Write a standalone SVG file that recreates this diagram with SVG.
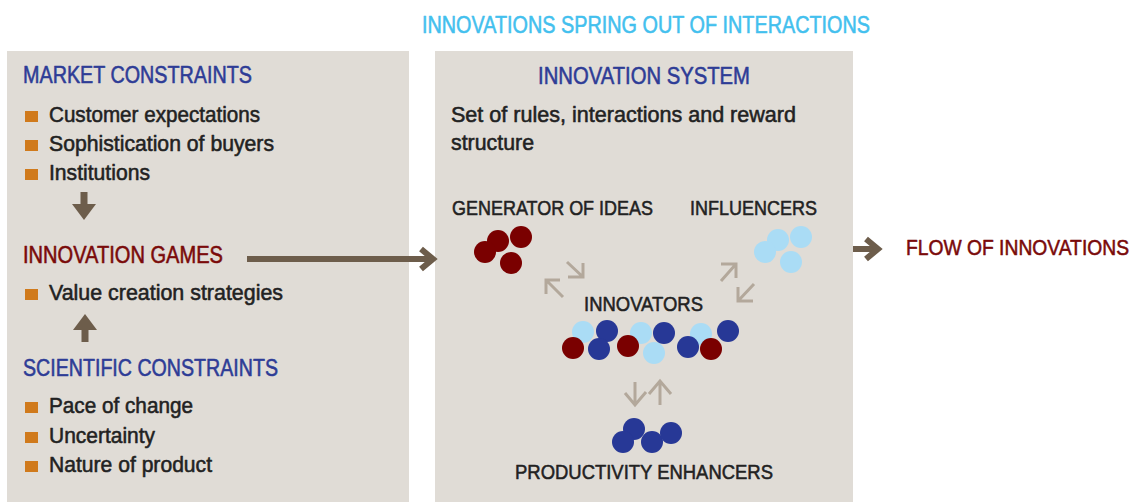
<svg xmlns="http://www.w3.org/2000/svg" width="1141" height="502" viewBox="0 0 1141 502">
  <style>
    text { font-family: "Liberation Sans Narrow", "Liberation Sans", "DejaVu Sans Condensed", sans-serif; stroke-width: 0.55px; stroke-linejoin: round; }
    .panel { fill: #e0dcd6; }
    .title { fill: #43c0ee; stroke: #43c0ee; font-size: 24px; }
    .head-blue { fill: #2e3c96; stroke: #2e3c96; font-size: 23px; }
    .head-red { fill: #7a0a0a; stroke: #7a0a0a; font-size: 23px; }
    .body { fill: #222222; stroke: #222222; font-size: 22px; }
    .label { fill: #222222; stroke: #222222; font-size: 21px; }
    .bullet { fill: #d07a1c; }
    .dred { fill: #7a0000; }
    .dblue { fill: #273896; }
    .lblue { fill: #aadcf5; }
    .big-arrow { fill: none; stroke: #6d5d4b; stroke-width: 6; stroke-linejoin: miter; }
    .solid-arrow { fill: #6d5d4b; }
    .thin-arrow { fill: none; stroke: #b3a89b; stroke-width: 3; stroke-linecap: butt; stroke-linejoin: miter; }
  </style>

  <!-- Page heading -->
  <text class="title" x="422" y="33" textLength="448" lengthAdjust="spacingAndGlyphs">INNOVATIONS SPRING OUT OF INTERACTIONS</text>

  <!-- Left panel: constraints and games -->
  <g id="constraints">
    <rect class="panel" x="7" y="51" width="402" height="451"/>

    <g id="market-constraints">
      <text class="head-blue" x="23" y="83" textLength="229" lengthAdjust="spacingAndGlyphs">MARKET CONSTRAINTS</text>
      <rect class="bullet" x="25" y="111" width="13" height="11"/>
      <text class="body" x="49" y="122" textLength="211" lengthAdjust="spacingAndGlyphs">Customer expectations</text>
      <rect class="bullet" x="25" y="140" width="13" height="11"/>
      <text class="body" x="49" y="151" textLength="225" lengthAdjust="spacingAndGlyphs">Sophistication of buyers</text>
      <rect class="bullet" x="25" y="169" width="13" height="11"/>
      <text class="body" x="49" y="180" textLength="101" lengthAdjust="spacingAndGlyphs">Institutions</text>
    </g>

    <g id="innovation-games">
      <text class="head-red" x="23" y="263" textLength="200" lengthAdjust="spacingAndGlyphs">INNOVATION GAMES</text>
      <rect class="bullet" x="25" y="289" width="13" height="11"/>
      <text class="body" x="49" y="300" textLength="234" lengthAdjust="spacingAndGlyphs">Value creation strategies</text>
    </g>

    <g id="scientific-constraints">
      <text class="head-blue" x="23" y="376" textLength="255" lengthAdjust="spacingAndGlyphs">SCIENTIFIC CONSTRAINTS</text>
      <rect class="bullet" x="25" y="402" width="13" height="11"/>
      <text class="body" x="49" y="413" textLength="144" lengthAdjust="spacingAndGlyphs">Pace of change</text>
      <rect class="bullet" x="25" y="432" width="13" height="11"/>
      <text class="body" x="49" y="443" textLength="106" lengthAdjust="spacingAndGlyphs">Uncertainty</text>
      <rect class="bullet" x="25" y="461" width="13" height="11"/>
      <text class="body" x="49" y="472" textLength="163" lengthAdjust="spacingAndGlyphs">Nature of product</text>
    </g>
  </g>

  <!-- Right panel: innovation system -->
  <g id="innovation-system">
    <rect class="panel" x="435" y="51" width="418" height="451"/>
    <text class="head-blue" x="538" y="84" textLength="212" lengthAdjust="spacingAndGlyphs">INNOVATION SYSTEM</text>
    <text class="body" x="451" y="122" textLength="345" lengthAdjust="spacingAndGlyphs">Set of rules, interactions and reward</text>
    <text class="body" x="451" y="150" textLength="83" lengthAdjust="spacingAndGlyphs">structure</text>
  </g>

  <g id="generator-of-ideas">
    <text class="label" x="452" y="215" textLength="201" lengthAdjust="spacingAndGlyphs">GENERATOR OF IDEAS</text>
    <circle class="dred" cx="498" cy="241" r="11"/>
    <circle class="dred" cx="485" cy="252" r="11"/>
    <circle class="dred" cx="521" cy="237" r="11"/>
    <circle class="dred" cx="511" cy="263" r="11"/>
  </g>

  <g id="influencers">
    <text class="label" x="690" y="215" textLength="127" lengthAdjust="spacingAndGlyphs">INFLUENCERS</text>
    <circle class="lblue" cx="778" cy="240" r="11"/>
    <circle class="lblue" cx="765" cy="252" r="11"/>
    <circle class="lblue" cx="801" cy="237" r="11"/>
    <circle class="lblue" cx="791" cy="262" r="11"/>
  </g>

  <g id="innovators">
    <text class="label" x="584" y="311" textLength="119" lengthAdjust="spacingAndGlyphs">INNOVATORS</text>
    <circle class="lblue" cx="583" cy="332" r="11"/>
    <circle class="lblue" cx="641" cy="333" r="11"/>
    <circle class="lblue" cx="701" cy="334" r="11"/>
    <circle class="lblue" cx="654" cy="353" r="11"/>
    <circle class="dblue" cx="607" cy="331" r="11"/>
    <circle class="dblue" cx="664" cy="333" r="11"/>
    <circle class="dblue" cx="728" cy="331" r="11"/>
    <circle class="dblue" cx="599" cy="349" r="11"/>
    <circle class="dblue" cx="688" cy="347" r="11"/>
    <circle class="dred" cx="573" cy="348" r="11"/>
    <circle class="dred" cx="628" cy="346" r="11"/>
    <circle class="dred" cx="711" cy="349" r="11"/>
  </g>

  <g id="productivity-enhancers">
    <circle class="dblue" cx="634" cy="429" r="11"/>
    <circle class="dblue" cx="623" cy="442" r="11"/>
    <circle class="dblue" cx="652" cy="442" r="11"/>
    <circle class="dblue" cx="671" cy="433" r="11"/>
    <text class="label" x="515" y="479" textLength="258" lengthAdjust="spacingAndGlyphs">PRODUCTIVITY ENHANCERS</text>
  </g>

  <g id="flow-of-innovations">
    <text class="head-red" x="906" y="255" font-size="22" textLength="223" lengthAdjust="spacingAndGlyphs" style="font-size:22px">FLOW OF INNOVATIONS</text>
  </g>

  <!-- Connectors -->
  <g id="connectors">
    <!-- market constraints down to games -->
    <path class="solid-arrow" d="M80.5 192 H87.5 V204 H96 L84 220 L72 204 H80.5 Z"/>
    <!-- scientific constraints up to games -->
    <path class="solid-arrow" d="M81.5 342 H88.5 V330 H97 L85 314 L73 330 H81.5 Z"/>
    <!-- games into the innovation system -->
    <path class="big-arrow" d="M247 259 H432"/>
    <path class="big-arrow" d="M421 249 L433 259 L421 269"/>
    <!-- system output -->
    <path class="big-arrow" d="M853 249 H878"/>
    <path class="big-arrow" d="M866 239 L878 249 L866 259"/>

    <!-- generator <-> innovators -->
    <path class="thin-arrow" d="M567 262 L583 277 M583 263 V277 H568"/>
    <path class="thin-arrow" d="M563 297 L546 280 M546 294 V280 H560"/>
    <!-- innovators <-> influencers -->
    <path class="thin-arrow" d="M721 281 L736 264 M721 264 H736 V278"/>
    <path class="thin-arrow" d="M754 284 L738 301 M738 287 V301 H753"/>
    <!-- innovators <-> productivity enhancers -->
    <path class="thin-arrow" d="M635 382 V405 M625 393 L635 405 L646 392"/>
    <path class="thin-arrow" d="M660 405 V382 M649 394 L660 381 L671 394"/>
  </g>
</svg>
